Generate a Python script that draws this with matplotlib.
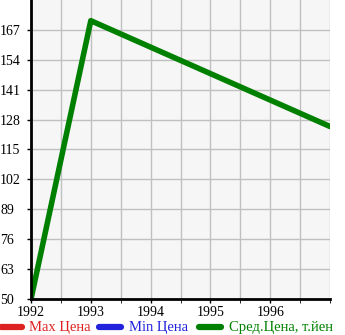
import matplotlib
matplotlib.use("Agg")
import matplotlib.pyplot as plt
from matplotlib.lines import Line2D
from matplotlib.ticker import MultipleLocator

years = [1992, 1993, 1997]
avg_price = [50, 171, 125]
max_price = []
min_price = []
yticks = [50, 63, 76, 89, 102, 115, 128, 141, 154, 167]
xticks = [1992, 1993, 1994, 1995, 1996]
legend_labels = ["Max Цена", "Min Цена", "Сред.Цена, т.йен"]
legend_colors = ["#dd2222", "#2222dd", "#008000"]

plt.rcParams["font.family"] = ["Liberation Serif", "DejaVu Serif"]

W, H = 345, 335
fig = plt.figure(figsize=(W / 100, H / 100), dpi=100)
ax = fig.add_axes([31 / W, 1 - 299 / H, 299 / W, 299 / H])
ax.set_facecolor("#f6f6f6")

ax.plot(max_price, max_price, color=legend_colors[0], lw=4)
ax.plot(min_price, min_price, color=legend_colors[1], lw=4)
ax.plot(years, avg_price, color=legend_colors[2], lw=4, solid_capstyle="round", zorder=3)

ax.set_xlim(1992, 1997)
ax.set_ylim(50, 180)
ax.set_xticks(xticks)
ax.xaxis.set_minor_locator(MultipleLocator(0.5))
ax.set_yticks(yticks)
ax.grid(which="both", color="#c0c0c0", lw=1)
ax.tick_params(labelsize=10, length=3, width=1, color="black", pad=2)
ax.tick_params(axis="x", which="minor", length=3)
# pad in points: puts the left-aligned labels at the figure's left edge
ax.tick_params(axis="y", pad=19.2)
for lbl in ax.get_yticklabels():
    lbl.set_horizontalalignment("left")

for s in ["top", "right"]:
    ax.spines[s].set_visible(False)
for s in ["left", "bottom"]:
    ax.spines[s].set_linewidth(2)
    ax.spines[s].set_zorder(4)

# legend drawn by hand: handle start/end and text position in pixels
legend_pos = [(1, 22, 29), (99, 121, 129), (199, 221, 229)]
ly = 1 - 327 / H
for (x0, x1, xt), lab, c in zip(legend_pos, legend_labels, legend_colors):
    fig.add_artist(Line2D([x0 / W, x1 / W], [ly, ly], color=c, lw=4.5,
                          solid_capstyle="round", transform=fig.transFigure))
    fig.text(xt / W, ly, lab, color=c, fontsize=10.5, va="center", ha="left")

fig.savefig("out.png", dpi=100)
